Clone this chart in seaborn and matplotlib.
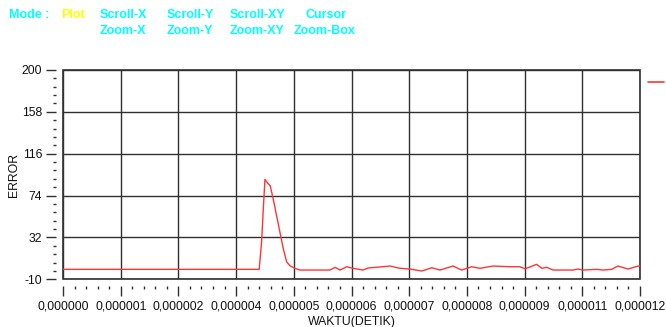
import matplotlib
matplotlib.use("Agg")
import matplotlib.pyplot as plt
from matplotlib.ticker import FixedLocator, AutoMinorLocator
from matplotlib.lines import Line2D
import numpy as np
import pandas as pd
import seaborn as sns

# time in microseconds and error signal
time_us = [0.0, 1.0, 2.0, 3.0, 4.08, 4.13, 4.17, 4.20, 4.24, 4.31, 4.37, 4.44,
           4.51, 4.58, 4.65, 4.72, 4.82, 4.93, 5.55, 5.66, 5.76, 5.90, 6.03,
           6.24, 6.34, 6.80, 7.01, 7.22, 7.46, 7.67, 7.84, 8.11, 8.29, 8.50,
           8.67, 8.94, 9.30, 9.50, 9.61, 9.85, 9.96, 10.06, 10.19, 10.61,
           10.71, 10.81, 11.10, 11.23, 11.41, 11.54, 11.75, 11.96, 12.0]
error = [0.0, 0.0, 0.0, 0.0, 0.0, 27.6, 64.3, 90.3, 87.6, 83.6, 71.0, 54.3,
         37.6, 21.0, 7.6, 3.6, 1.0, -0.7, -0.7, 2.0, -0.7, 2.6, 1.0,
         -0.7, 1.3, 3.3, 1.0, 0.3, -1.7, 1.6, -0.7, 3.3, -0.7, 2.6,
         1.0, 3.3, 2.6, 2.6, 0.5, 5.0, 1.0, 2.0, -0.7, -0.7,
         0.3, -0.7, 0.0, -0.7, 0.0, 3.3, 0.3, 3.3, 3.3]

y_ticks = [-10, 32, 74, 116, 158, 200]
x_ticks_us = [0.0, 1.2, 2.4, 3.6, 4.8, 6.0, 7.2, 8.4, 9.6, 10.8, 12.0]
x_tick_labels = ["0,000000", "0,000001", "0,000002", "0,000004", "0,000005",
                 "0,000006", "0,000007", "0,000008", "0,000009", "0,000011",
                 "0,000012"]

mode_row1 = [("Mode :", "#00ffff", 9), ("Plot", "#ffff00", 61),
             ("Scroll-X", "#00ffff", 100), ("Scroll-Y", "#00ffff", 167),
             ("Scroll-XY", "#00ffff", 230), ("Cursor", "#00ffff", 306)]
mode_row2 = [("Zoom-X", "#00ffff", 100), ("Zoom-Y", "#00ffff", 167),
             ("Zoom-XY", "#00ffff", 230), ("Zoom-Box", "#00ffff", 294)]

sns.set_style("white")
plt.rcParams["font.family"] = ["Liberation Sans", "DejaVu Sans"]

W, H = 666, 327
fig = plt.figure(figsize=(W / 100, H / 100), dpi=100)
left, right, top, bottom = 63, 640, 70, 279.3
ax = fig.add_axes([left / W, 1 - bottom / H, (right - left) / W, (bottom - top) / H])

df = pd.DataFrame({"t": np.array(time_us) * 1e-6, "err": error})
sns.lineplot(data=df, x="t", y="err", ax=ax, color="#ff3535", linewidth=1.0,
             label="_data", legend=False)

ax.set_xlim(0, 12e-6)
ax.set_ylim(-10, 200)

ax.xaxis.set_major_locator(FixedLocator([v * 1e-6 for v in x_ticks_us]))
ax.set_xticklabels(x_tick_labels)
ax.yaxis.set_major_locator(FixedLocator(y_ticks))
ax.set_yticklabels([str(v) for v in y_ticks])
ax.xaxis.set_minor_locator(AutoMinorLocator(5))
ax.yaxis.set_minor_locator(AutoMinorLocator(5))

ax.grid(True, which="major", color="#303030", linewidth=1.0)
ax.set_axisbelow(True)

# frame drawn by the patch; spines only carry the detached ticks
ax.patch.set_edgecolor("#303030")
ax.patch.set_linewidth(1.2)
for side in ["top", "right"]:
    ax.spines[side].set_visible(False)
for side in ["left", "bottom"]:
    ax.spines[side].set_position(("outward", 5))
    ax.spines[side].set_color("none")

ax.tick_params(which="both", bottom=True, left=True, top=False, right=False)
ax.tick_params(which="major", direction="out", length=7, width=1.0,
               color="#303030", labelsize=8.8, labelcolor="#111111", pad=3)
ax.tick_params(which="minor", direction="out", length=2.5, width=1.0,
               color="#303030")

ax.set_xlabel("WAKTU(DETIK)", fontsize=8.8, color="#111111", labelpad=3)
ax.set_ylabel("ERROR", fontsize=8.8, color="#111111", labelpad=1)

handle = Line2D([], [], color="#ff3535", linewidth=1.2)
ax.legend(handles=[handle], labels=[""], loc="center left",
          bbox_to_anchor=(1.005, 0.94), frameon=False, handlelength=1.1,
          handletextpad=0, borderaxespad=0)

for label, color, x in mode_row1:
    fig.text(x / W, 1 - 15 / H, label, color=color, fontsize=9,
             fontweight="bold", va="center", ha="left")
for label, color, x in mode_row2:
    fig.text(x / W, 1 - 30.5 / H, label, color=color, fontsize=9,
             fontweight="bold", va="center", ha="left")

fig.savefig("out.png", dpi=100, facecolor="white")
